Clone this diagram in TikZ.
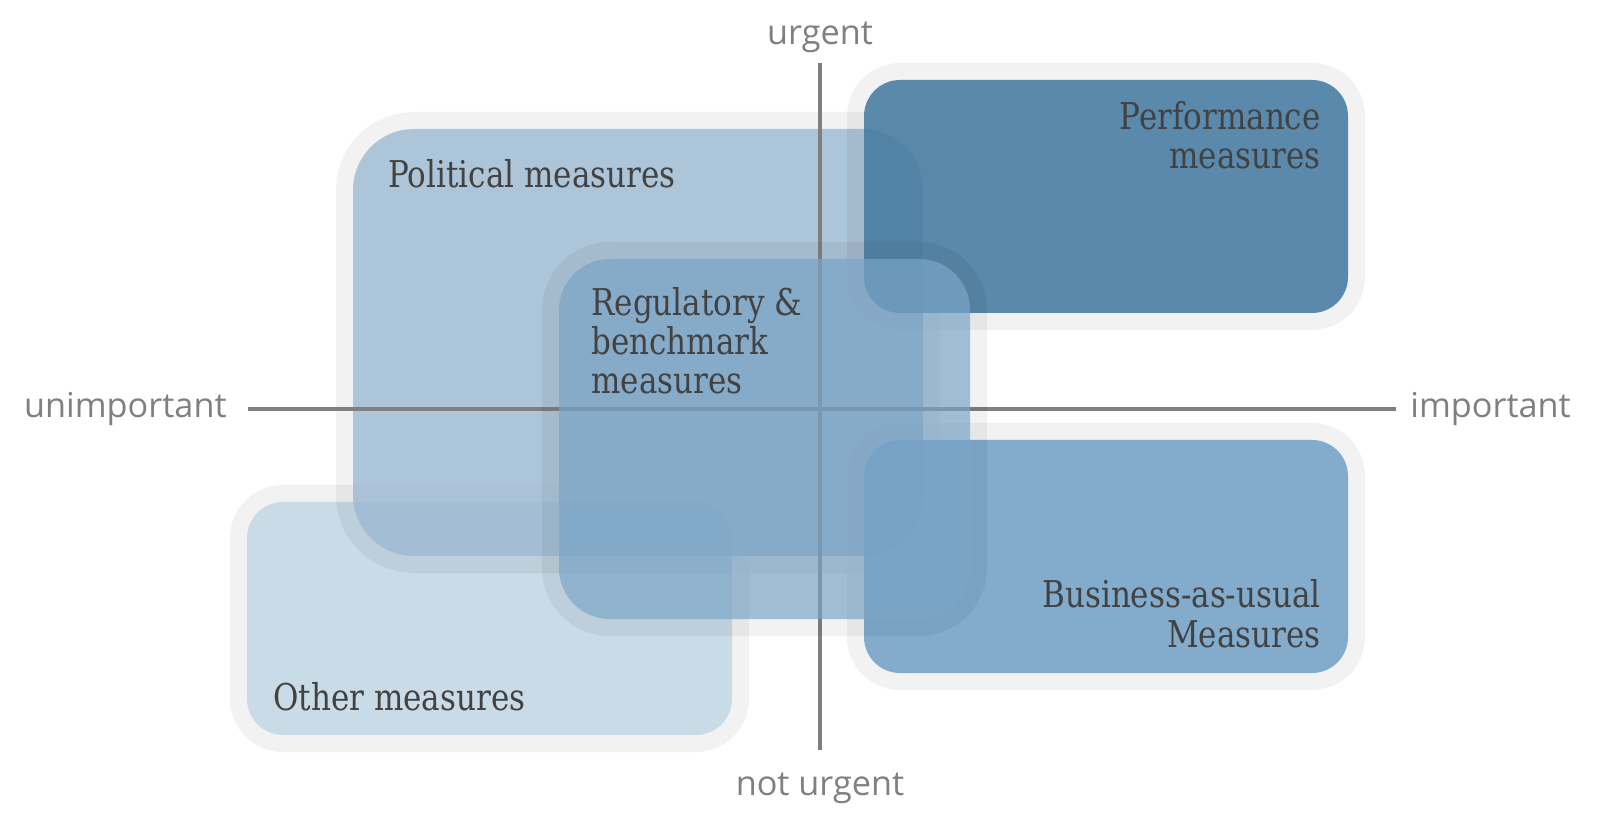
\documentclass[tikz,border=0pt]{standalone}
\usepackage{fontspec}
\usepackage{tikz}
\usepackage{xcolor}
\setmainfont{DejaVu Serif}[FakeStretch=0.84]
\newfontfamily\axisfont{Open Sans}
\usetikzlibrary{positioning}

\definecolor{othercol}{HTML}{C9DBE7}
\definecolor{polcol}{HTML}{9DBAD3}
\definecolor{perfcol}{HTML}{4A7EA3}
\definecolor{buscol}{HTML}{76A3C8}
\definecolor{regcol}{HTML}{7AA5C8}
\definecolor{axisgray}{HTML}{808080}
\definecolor{textgray}{HTML}{424242}

\begin{document}
\begin{tikzpicture}[x=0.02cm, y=-0.02cm,
    halo/.style={fill=black, fill opacity=0.05},
    boxtext/.style={text=textgray, inner sep=0pt, font=\fontsize{21}{22.3}\selectfont},
    axislabel/.style={text=axisgray, inner sep=0pt, font=\axisfont\fontsize{19.5}{22}\selectfont},
    axisline/.style={draw=axisgray, line width=1.9pt}]
    \useasboundingbox (0,0) rectangle (1600,827);

    % Other measures
    \fill[halo, rounded corners=1.06cm] (230,485) rectangle (749,752);
    \fill[othercol, rounded corners=0.72cm] (247,502) rectangle (732,735);

    % Political measures
    \fill[halo, rounded corners=1.56cm] (336,112) rectangle (940,573);
    \fill[polcol, fill opacity=0.8, rounded corners=1.22cm] (353,129) rectangle (923,556);

    % Performance measures
    \fill[halo, rounded corners=1.06cm] (847,63) rectangle (1365,330);
    \fill[perfcol, fill opacity=0.9, rounded corners=0.72cm] (864,80) rectangle (1348,313);

    % Business-as-usual measures
    \fill[halo, rounded corners=1.06cm] (847,423) rectangle (1365,690);
    \fill[buscol, fill opacity=0.9, rounded corners=0.72cm] (864,440) rectangle (1348,673);

    % Axes
    \coordinate (top) at (820,63);
    \coordinate (bottom) at (820,750);
    \coordinate (left) at (248,409);
    \coordinate (right) at (1396,409);
    \draw[axisline] (top) -- (bottom);
    \draw[axisline] (left) -- (right);

    % Regulatory & benchmark measures
    \fill[halo, rounded corners=1.36cm] (542,242) rectangle (987,636);
    \fill[regcol, fill opacity=0.69, rounded corners=1.02cm] (559,259) rectangle (970,619);

    % Box labels (base = last line)
    \node[boxtext, anchor=base west] (political) at (388,188) {Political measures};
    \node[boxtext, anchor=base west, align=left] (regulatory) at (591,394) {Regulatory \&\\ benchmark\\ measures};
    \node[boxtext, anchor=base east, align=right] (performance) at (1321,169) {Performance\\ measures};
    \node[boxtext, anchor=base east, align=right] (business) at (1321,647) {Business-as-usual\\ Measures};
    \node[boxtext, anchor=base west] (other) at (273,710) {Other measures};

    % Axis labels
    \node[axislabel, above=0.2cm of top] (urgent) {urgent};
    \node[axislabel, below=0.46cm of bottom] (noturgent) {not urgent};
    \node[axislabel, left=0.42cm of left] (unimportant) {unimportant};
    \node[axislabel, right=0.28cm of right] (important) {important};
\end{tikzpicture}
\end{document}
